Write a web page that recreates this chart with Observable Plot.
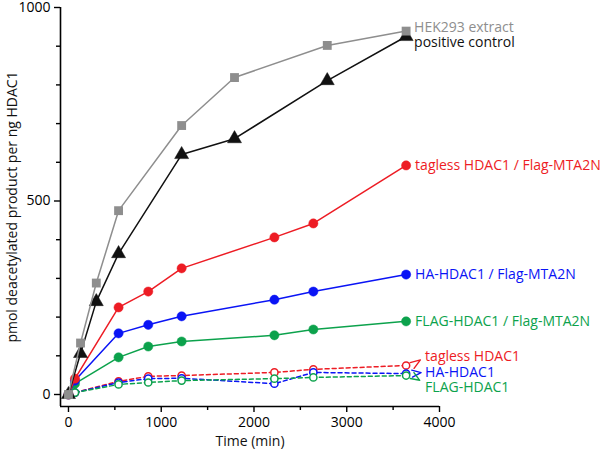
<!DOCTYPE html>
<html>
<head>
<meta charset="utf-8">
<script src="https://cdn.jsdelivr.net/npm/d3@7"></script>
<script src="https://cdn.jsdelivr.net/npm/@observablehq/plot@0.6"></script>
<style>
  html, body { margin: 0; padding: 0; background: #fff; }
</style>
</head>
<body>
<div id="chart"></div>
<script>
// ---- data ----
const timesCtrl = [0, 130, 300, 540, 1220, 1790, 2790, 3640];
const timesMix  = [0, 70, 540, 860, 1220, 2220, 2640, 3640];

const hek293      = [0, 133, 288, 475, 695, 819, 902, 939];
const positiveCtl = [0, 106, 240, 364, 620, 661, 811, 925];

const taglessMTA  = [0, 41, 225, 266, 326, 406, 442, 592];
const haMTA       = [0, 36, 158, 180, 202, 245, 266, 310];
const flagMTA     = [0, 28, 96, 124, 137, 153, 168, 189];

const taglessOnly = [0, 5, 34, 47, 49, 57, 65, 75];
const haOnly      = [0, 5, 31, 41, 42, 28, 57, 54];
const flagOnly    = [0, 5, 26, 31, 36, 41, 44, 49];

const xMajorTicks = [0, 1000, 2000, 3000, 4000];
const xMinorTicks = [500, 1500, 2500, 3500];
const yMajorTicks = [0, 500, 1000];
const yMinorTicks = [100, 200, 300, 400, 600, 700, 800, 900];

const xLabel = "Time (min)";
const yLabel = "pmol deacetylated product per ng HDAC1";

// ---- series configuration ----
const RED = "#ed1c24", BLUE = "#0a14f5", GREEN = "#0ca24c", GRAY = "#8e8e8e", BLACK = "#111111";
const series = [
  {name: "tagless HDAC1", t: timesMix, v: taglessOnly, color: RED, kind: "open", ldy: -9, ldx: 19, lead: [56, 10]},
  {name: "HA-HDAC1", t: timesMix, v: haOnly, color: BLUE, kind: "open", ldy: -1, ldx: 19, lead: [84, 9]},
  {name: "FLAG-HDAC1", t: timesMix, v: flagOnly, color: GREEN, kind: "open", ldy: 12, ldx: 19, lead: [122, 9]},
  {name: "FLAG-HDAC1 / Flag-MTA2N", t: timesMix, v: flagMTA, color: GREEN, kind: "filled", ldy: 0, ldx: 9},
  {name: "HA-HDAC1 / Flag-MTA2N", t: timesMix, v: haMTA, color: BLUE, kind: "filled", ldy: 0, ldx: 9},
  {name: "tagless HDAC1 / Flag-MTA2N", t: timesMix, v: taglessMTA, color: RED, kind: "filled", ldy: 0, ldx: 9},
  {name: "positive control", t: timesCtrl, v: positiveCtl, color: BLACK, kind: "triangle", ldy: 6, ldx: 8},
  {name: "HEK293 extract", t: timesCtrl, v: hek293, color: GRAY, kind: "square", ldy: -4, ldx: 8}
];

const xMin = -86, xMax = 4000, yMin = -31, yMax = 1000;
const fmt = d3.format("d");

const marks = [];
// axis lines
marks.push(Plot.ruleX([xMin], {y1: yMin, y2: yMax, stroke: "#000", strokeWidth: 1.6}));
marks.push(Plot.ruleY([yMin], {x1: xMin, x2: xMax, stroke: "#000", strokeWidth: 1.6}));
// axes
marks.push(Plot.axisX(xMajorTicks, {anchor: "bottom", tickSize: 6, tickPadding: 5, strokeWidth: 1.4, fontSize: 14, tickFormat: fmt, label: null}));
marks.push(Plot.axisX(xMinorTicks, {anchor: "bottom", tickSize: 4, strokeWidth: 1.4, fill: "none", label: null}));
marks.push(Plot.axisY(yMajorTicks, {anchor: "left", tickSize: 6, tickPadding: 4, strokeWidth: 1.4, fontSize: 14, tickFormat: fmt, label: null}));
marks.push(Plot.axisY(yMinorTicks, {anchor: "left", tickSize: 4, strokeWidth: 1.4, fill: "none", label: null}));
// axis titles
marks.push(Plot.text([xLabel], {frameAnchor: "bottom", textAnchor: "middle", dy: 35, fontSize: 14, fill: "#111", lineAnchor: "middle"}));
marks.push(Plot.text([yLabel], {frameAnchor: "left", textAnchor: "middle", lineAnchor: "middle", rotate: -90, dx: -48, fontSize: 14, fill: "#111"}));

for (const s of series) {
  const rows = s.t.map((t, i) => ({t, v: s.v[i]}));
  const last = rows[rows.length - 1];
  marks.push(Plot.line(rows, {x: "t", y: "v", stroke: s.color, strokeWidth: 1.5,
    strokeDasharray: s.kind === "open" ? "4,3" : null}));
  if (s.kind === "open") {
    marks.push(Plot.dot(rows, {x: "t", y: "v", r: 3.6, stroke: s.color, strokeWidth: 1.5, fill: "#fff"}));
  } else if (s.kind === "filled") {
    marks.push(Plot.dot(rows, {x: "t", y: "v", r: 4.6, fill: s.color, stroke: s.color, strokeWidth: 0.5}));
  } else if (s.kind === "triangle") {
    marks.push(Plot.dot(rows, {x: "t", y: "v", r: 5.2, symbol: "triangle", fill: s.color, stroke: s.color, strokeWidth: 0.5}));
  } else {
    marks.push(Plot.dot(rows, {x: "t", y: "v", r: 5, symbol: "square", fill: s.color}));
  }
  marks.push(Plot.text([last], {x: "t", y: "v", text: () => s.name, textAnchor: "start",
    dx: s.ldx, dy: s.ldy, fill: s.color, fontSize: 14}));
  if (s.lead) {
    marks.push(Plot.vector([last], {x: "t", y: "v", rotate: s.lead[0], length: s.lead[1], anchor: "start",
      dx: 6, stroke: s.color, strokeWidth: 1.4, shape: "spike"}));
  }
}

const chart = Plot.plot({
  width: 600,
  height: 449,
  marginLeft: 60,
  marginRight: 161,
  marginTop: 7,
  marginBottom: 43,
  x: {domain: [xMin, xMax]},
  y: {domain: [yMin, yMax]},
  style: {fontFamily: "'Open Sans', sans-serif", fontSize: "14px", background: "#fff", overflow: "visible"},
  marks
});
document.getElementById("chart").appendChild(chart);
</script>
</body>
</html>
